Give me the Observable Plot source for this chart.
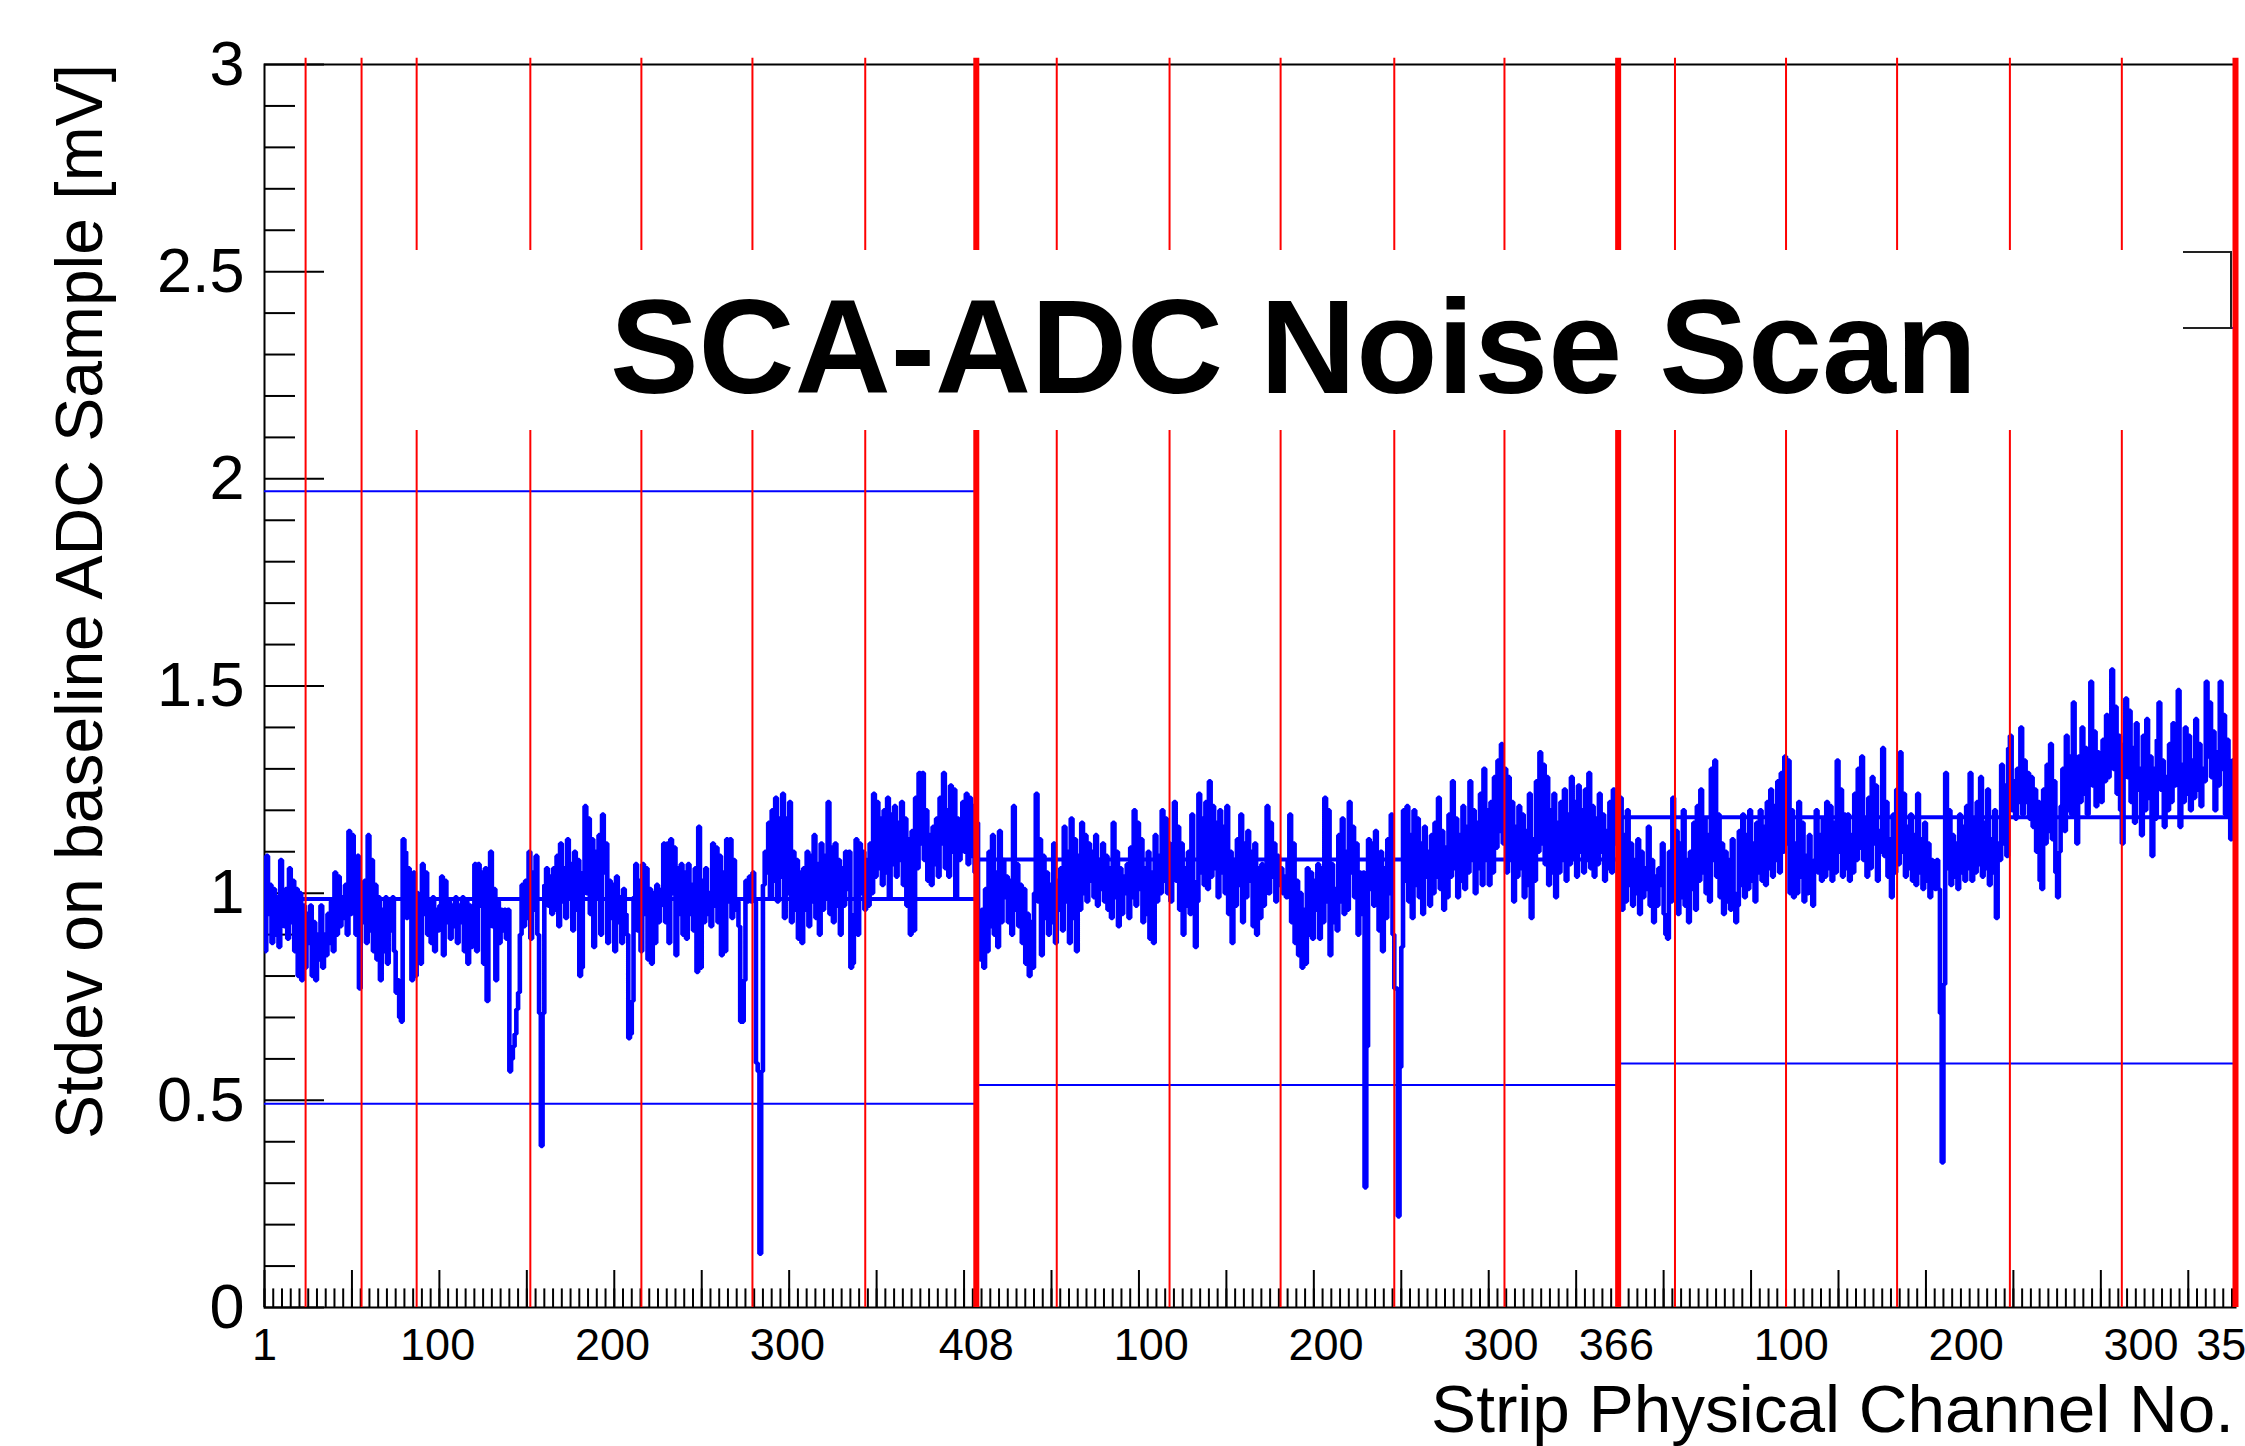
<!DOCTYPE html>
<html>
<head>
<meta charset="utf-8">
<script src="https://cdn.jsdelivr.net/npm/d3@7"></script>
<script src="https://cdn.jsdelivr.net/npm/@observablehq/plot@0.6"></script>
<style>
html, body { margin:0; padding:0; background:#fff; overflow:hidden; }
#wrap { position:relative; width:2245px; height:1446px; overflow:hidden; font-family:"Liberation Sans", Arial, Helvetica, sans-serif; color:#000; }
#chart { position:absolute; left:0; top:0; }
.pave { position:absolute; left:390px; top:250px; width:1793px; height:180px; background:#fff; }
.bracket { position:absolute; left:2183px; top:251px; width:47px; height:74px; border-top:2px solid #222; border-right:2px solid #222; border-bottom:2px solid #222; }
.title { position:absolute; left:0; top:281px; width:2587px; text-align:center; font-weight:bold; font-size:133px; line-height:133px; white-space:nowrap; }
.ytitle { position:absolute; left:46px; top:1307px; width:1243px; transform-origin:0 0; transform:rotate(-90deg); text-align:right; font-size:66px; line-height:66px; white-space:nowrap; }
.xtitle { position:absolute; left:0; top:1375px; width:2234px; text-align:right; font-size:67.5px; line-height:67.5px; white-space:nowrap; }
</style>
</head>
<body>
<div id="wrap">
  <div id="chart"></div>
  <div class="pave"></div>
  <div class="bracket"></div>
  <div class="title">SCA-ADC Noise Scan</div>
  <div class="ytitle">Stdev on baseline ADC Sample [mV]</div>
  <div class="xtitle">Strip Physical Channel No.</div>
</div>
<script>
// ---- Data: stdev per strip channel, three readout segments (408, 366, 353 channels)
const seg1 = [
0.86,1.09,0.95,1.02,0.88,1.01,0.90,0.99,0.87,1.08,
1.00,0.92,1.01,0.89,1.06,0.93,1.03,0.86,1.01,0.80,
1.00,0.79,0.97,0.82,0.95,0.88,0.97,0.80,0.93,0.79,
0.90,0.84,0.97,0.82,0.90,0.85,0.95,0.88,0.98,0.86,
1.05,0.90,1.04,0.92,0.99,0.94,1.02,0.90,1.15,0.95,
1.14,1.09,0.90,1.09,0.77,0.99,0.93,1.03,0.88,1.14,
0.91,1.08,0.86,1.02,0.84,0.99,0.79,0.96,0.86,0.99,
0.83,0.98,0.91,0.99,0.86,0.76,0.79,0.70,0.69,1.13,
1.10,0.94,1.06,0.98,0.79,1.05,0.80,1.00,0.92,0.83,
1.07,0.95,1.05,0.90,0.98,0.88,0.99,0.86,0.96,0.91,
0.97,1.04,0.85,1.03,0.93,0.98,0.89,0.97,0.92,0.99,
0.88,0.97,0.93,0.99,0.86,0.98,0.83,0.97,0.87,0.96,
1.07,0.86,1.07,0.97,1.05,0.83,1.06,0.74,0.96,1.10,
0.92,1.01,0.79,0.98,0.88,0.96,0.91,0.96,0.89,0.96,
0.57,0.60,0.63,0.66,0.72,0.76,0.90,1.02,0.92,1.03,
0.94,1.10,0.89,1.05,0.96,1.09,0.90,0.71,0.39,0.71,
1.02,1.06,0.97,1.04,0.95,1.06,0.96,1.09,0.92,1.12,
0.98,1.06,0.94,1.13,0.99,1.07,0.91,1.10,0.96,1.08,
0.80,0.82,1.05,1.21,1.00,1.18,0.95,1.13,0.87,1.10,
0.99,1.14,0.90,1.19,1.05,1.12,0.88,1.03,0.94,1.02,
0.86,1.04,0.93,0.99,0.88,1.01,0.95,0.90,0.65,0.66,
0.74,0.99,1.07,0.91,1.03,0.86,1.07,0.95,1.06,0.84,
1.01,0.83,1.00,0.88,1.02,0.93,0.97,1.01,1.12,0.93,
1.12,0.88,1.13,1.00,1.11,0.85,1.06,0.95,1.07,0.90,
1.05,0.89,1.07,0.95,1.02,0.91,1.06,0.81,1.16,0.82,
1.03,0.93,1.06,0.95,1.00,0.92,1.12,0.97,1.11,0.93,
1.09,0.85,1.05,0.86,1.13,0.98,1.13,0.94,1.08,0.96,
0.98,0.92,0.69,0.69,0.79,1.03,0.98,1.04,0.98,1.05,
0.98,0.59,0.57,0.13,0.57,1.02,1.10,1.05,1.17,0.99,
1.20,1.03,1.23,0.98,1.18,1.04,1.24,0.94,1.18,1.00,
1.22,0.93,1.10,0.96,1.08,0.89,1.05,0.88,1.06,0.96,
1.10,0.92,1.09,0.98,1.14,0.94,1.07,0.90,1.12,0.96,
1.09,0.99,1.22,0.95,1.11,0.93,1.12,0.97,1.08,0.90,
1.06,0.97,1.10,1.01,1.10,0.82,0.83,0.95,1.13,0.90,
1.12,1.00,1.10,0.96,1.08,0.97,1.12,1.00,1.24,1.04,
1.22,1.06,1.18,1.02,1.20,1.05,1.23,0.99,1.19,1.07,
1.21,1.04,1.17,1.08,1.22,1.02,1.18,0.97,1.13,0.90,
1.15,0.91,1.23,1.06,1.29,1.12,1.29,1.08,1.20,1.03,
1.14,1.02,1.16,1.07,1.18,1.04,1.23,1.12,1.29,1.06,
1.20,1.04,1.26,1.10,1.25,0.99,1.18,1.08,1.16,1.22,
1.10,1.24,1.07,1.23,1.09,1.21,1.05,1.17
];
const seg2 = [
0.95,0.84,0.96,0.82,1.01,0.86,1.10,0.92,1.14,0.90,
1.05,0.87,1.15,0.93,1.08,0.99,1.04,0.93,1.03,0.90,
1.21,0.96,1.07,0.92,1.02,0.88,1.01,0.83,0.95,0.80,
0.93,0.82,1.00,1.24,0.98,1.13,0.85,1.09,0.94,1.05,
0.90,1.02,0.93,1.12,0.88,1.03,0.96,1.06,0.91,1.16,
0.98,1.10,0.88,1.18,0.94,1.13,0.86,1.09,0.96,1.17,
1.00,1.14,0.98,1.12,1.03,1.10,0.99,1.14,0.97,1.08,
1.01,1.12,0.98,1.09,0.96,1.06,0.94,1.17,0.99,1.10,
0.92,1.06,0.95,1.04,1.00,1.07,0.94,1.11,0.99,1.20,
0.97,1.17,1.01,1.13,0.93,1.06,0.95,1.10,0.89,1.05,
0.88,1.14,0.98,1.09,1.00,1.20,1.03,1.18,1.00,1.12,
0.98,1.10,1.22,1.03,1.16,0.96,1.12,0.90,1.06,0.97,
1.10,0.95,1.19,1.03,0.87,0.98,1.24,1.05,1.18,1.02,
1.22,1.01,1.27,1.04,1.21,1.06,1.17,0.99,1.20,1.05,
1.16,1.00,1.21,0.95,1.10,0.88,1.08,0.97,1.13,1.02,
1.19,0.93,1.12,0.99,1.15,1.03,1.10,0.92,1.12,0.90,
1.06,0.94,1.07,0.97,1.03,1.21,1.00,1.17,1.04,1.12,
0.98,1.09,1.02,1.06,1.00,1.04,0.99,1.08,1.19,0.93,
1.12,0.88,1.03,0.85,1.00,0.82,0.96,0.83,1.06,0.90,
1.05,0.89,1.03,0.96,1.07,0.89,1.06,0.93,1.23,0.98,
1.20,0.85,1.07,0.93,1.01,0.91,1.14,0.98,1.18,0.95,
1.10,0.96,1.22,1.05,1.16,0.99,1.12,0.90,1.05,0.95,
1.05,0.29,0.63,1.13,1.01,1.12,0.97,1.15,1.00,0.91,
1.10,0.86,1.06,0.94,1.13,1.00,1.19,0.90,0.77,0.77,
0.22,0.58,0.87,1.20,1.03,1.21,0.98,1.14,0.94,1.20,
1.02,1.18,0.99,1.12,0.95,1.16,1.04,1.10,0.97,1.14,
1.00,1.17,1.04,1.23,1.01,1.15,0.96,1.11,0.99,1.19,
1.04,1.27,1.06,1.18,0.99,1.14,1.03,1.21,1.01,1.16,
1.05,1.27,1.08,1.20,1.00,1.17,1.06,1.24,1.02,1.30,
1.08,1.20,1.02,1.22,1.05,1.28,1.11,1.32,1.15,1.36,
1.12,1.30,1.05,1.28,1.08,1.22,0.98,1.16,1.04,1.21,
1.06,1.19,0.99,1.15,1.02,1.24,0.94,1.13,1.03,1.27,
1.10,1.34,1.12,1.31,1.07,1.28,1.02,1.20,1.05,1.24,
0.99,1.17,1.05,1.22,1.08,1.25,1.03,1.19,1.07,1.28,
1.09,1.22,1.04,1.26,1.10,1.20,1.05,1.25,1.08,1.29,
1.06,1.21,1.04,1.18,1.07,1.24,1.10,1.19,1.03,1.15,
1.06,1.22,1.05,1.25,1.12,1.18
];
const seg3 = [
1.05,1.23,0.96,1.14,0.98,1.20,1.02,1.12,0.97,1.08,
1.00,1.13,0.95,1.10,0.99,1.06,1.01,1.16,0.97,1.08,
0.93,1.04,0.97,1.06,1.02,1.12,0.95,0.90,0.89,1.10,
0.98,1.23,1.00,1.15,0.95,1.12,0.99,1.20,0.97,1.08,
0.93,1.10,1.01,1.17,0.96,1.21,1.03,1.25,1.05,1.18,
1.00,1.14,0.98,1.30,1.08,1.32,1.04,1.19,0.99,1.12,
0.95,1.10,0.98,1.08,0.96,1.13,1.00,0.93,0.97,1.15,
1.02,1.19,0.99,1.14,1.01,1.20,1.03,1.12,0.98,1.17,
1.05,1.20,1.03,1.16,1.02,1.22,1.06,1.25,1.04,1.21,
1.08,1.27,1.05,1.29,1.10,1.33,1.12,1.32,1.00,1.20,
0.99,1.12,1.00,1.22,1.04,1.17,0.98,1.09,1.00,1.14,
1.02,0.97,1.08,1.20,1.05,1.14,1.03,1.18,1.04,1.22,
1.06,1.21,1.03,1.17,1.05,1.32,1.10,1.25,1.04,1.19,
1.06,1.19,1.03,1.14,1.05,1.24,1.08,1.30,1.11,1.33,
1.08,1.18,1.04,1.23,1.06,1.28,1.12,1.26,1.03,1.15,
1.10,1.35,1.09,1.22,1.04,1.13,0.99,1.19,1.05,1.25,
1.07,1.34,1.10,1.24,1.04,1.16,1.06,1.19,1.03,1.14,
1.02,1.24,1.05,1.13,1.01,1.17,1.03,1.12,0.99,1.08,
1.03,1.01,1.08,1.01,0.71,0.35,0.78,1.29,1.06,1.20,
1.02,1.14,1.04,1.12,1.01,1.19,1.05,1.16,1.03,1.21,
1.06,1.29,1.03,1.18,1.05,1.22,1.07,1.28,1.04,1.17,
1.06,1.25,1.02,1.13,1.05,1.20,0.94,1.12,1.08,1.31,
1.12,1.26,1.09,1.35,1.38,1.20,1.27,1.18,1.30,1.22,
1.40,1.19,1.32,1.22,1.29,1.18,1.28,1.16,1.25,1.10,
1.22,1.03,1.01,1.25,1.12,1.31,1.15,1.36,1.13,1.27,
1.05,0.99,1.10,1.21,1.30,1.15,1.38,1.20,1.33,1.19,
1.46,1.25,1.12,1.33,1.22,1.40,1.24,1.35,1.19,1.30,
1.51,1.26,1.39,1.21,1.34,1.24,1.22,1.37,1.27,1.43,
1.28,1.35,1.54,1.30,1.45,1.24,1.38,1.20,1.12,1.36,
1.47,1.28,1.44,1.22,1.35,1.17,1.41,1.25,1.30,1.14,
1.38,1.20,1.42,1.23,1.33,1.09,1.30,1.18,1.37,1.46,
1.25,1.32,1.16,1.28,1.20,1.36,1.22,1.41,1.26,1.33,
1.49,1.16,1.31,1.22,1.40,1.24,1.38,1.20,1.32,1.23,
1.42,1.25,1.36,1.21,1.30,1.27,1.51,1.33,1.46,1.28,
1.39,1.20,1.34,1.26,1.51,1.30,1.43,1.19,1.37,1.24,
1.13,1.32,1.27
];

// Segment boundaries (channel index) and per-segment reference lines [mV]
const segBounds = [0, 407, 774, 1127];
const segMean = [0.986, 1.081, 1.183];
const segLow  = [0.492, 0.537, 0.589];
const segHigh = [1.970, 2.160, 2.364];

// Red marker lines (channel index)
const thinLines  = [23.5, 55.5, 87, 152, 215.5, 279, 343.5, 453, 517.5, 581, 646, 709, 806.5, 870, 933.5, 998, 1062];
const thickLines = [407, 774, 1127];

// Axis ticks and labels
const xLabelPos  = [0, 99, 199, 299, 407, 507, 607, 707, 773, 873, 973, 1073, 1126];
const xLabelText = ["1","100","200","300","408","100","200","300","366","100","200","300","353"];
const yMajorTicks = [0, 0.5, 1, 1.5, 2, 2.5, 3];
const yMinorTicks = [0.1,0.2,0.3,0.4,0.6,0.7,0.8,0.9,1.1,1.2,1.3,1.4,1.6,1.7,1.8,1.9,2.1,2.2,2.3,2.4,2.6,2.7,2.8,2.9];
const xMinorTicks = d3.range(0, 1127, 5);
const xMajorTicks = d3.range(0, 1127, 50);

// ---- Build tables
const values = seg1.concat(seg2, seg3);
const points = values.map((v, i) => ({c: i, v}));
points.push({c: values.length, v: values[values.length - 1]});
const segs = segMean.map((m, i) => ({x1: segBounds[i], x2: segBounds[i + 1], mean: m, low: segLow[i], high: segHigh[i]}));
const labelMap = new Map(xLabelPos.map((p, i) => [p, xLabelText[i]]));
const yTop = 3.015;

const chart = Plot.plot({
  width: 2245, height: 1446,
  marginLeft: 264, marginRight: 10, marginTop: 64, marginBottom: 139,
  x: {domain: [0, 1127]},
  y: {domain: [0, 3]},
  style: {fontFamily: '"Liberation Sans", Arial, Helvetica, sans-serif', background: "white", color: "black"},
  marks: [
    Plot.frame({stroke: "black", strokeWidth: 2}),
    Plot.axisX(xMinorTicks, {anchor: "bottom", tickSize: -18.6, fill: "none", label: null, strokeWidth: 2}),
    Plot.axisX(xMajorTicks, {anchor: "bottom", tickSize: -37, fill: "none", label: null, strokeWidth: 2}),
    Plot.axisX(xLabelPos, {anchor: "bottom", tickSize: 0, tickPadding: 21, tickFormat: d => labelMap.get(d), fontSize: 45, label: null}),
    Plot.axisY(yMinorTicks, {anchor: "left", tickSize: -31, fill: "none", label: null, strokeWidth: 2}),
    Plot.axisY(yMajorTicks, {anchor: "left", tickSize: -60, fill: "none", label: null, strokeWidth: 2}),
    Plot.axisY(yMajorTicks, {anchor: "left", tickSize: 0, tickPadding: 20, tickFormat: d => String(d), fontSize: 63, label: null}),
    Plot.line(points, {x: "c", y: "v", curve: "step-after", stroke: "#0000ff", strokeWidth: 4.6, strokeLinejoin: "miter", strokeLinecap: "butt"}),
    Plot.ruleY(segs, {x1: "x1", x2: "x2", y: "mean", stroke: "#0000ff", strokeWidth: 4}),
    Plot.ruleY(segs, {x1: "x1", x2: "x2", y: "low", stroke: "#0000ff", strokeWidth: 2}),
    Plot.ruleY(segs, {x1: "x1", x2: "x2", y: "high", stroke: "#0000ff", strokeWidth: 2}),
    Plot.ruleX(thinLines, {y1: 0, y2: yTop, stroke: "#ff0000", strokeWidth: 2}),
    Plot.ruleX(thickLines, {y1: 0, y2: yTop, stroke: "#ff0000", strokeWidth: 6})
  ]
});
document.getElementById("chart").appendChild(chart);
</script>
</body>
</html>
